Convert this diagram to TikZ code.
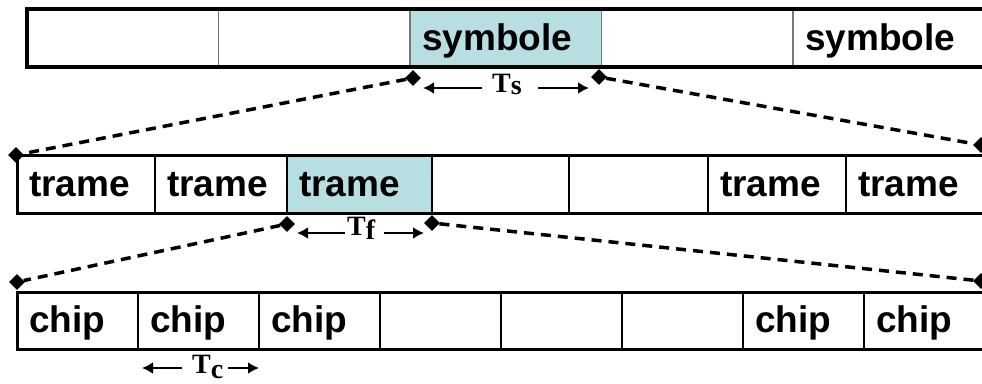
\documentclass[tikz,border=0pt]{standalone}
\usepackage{fontspec}
\setmainfont{Liberation Serif}
\setsansfont{Liberation Sans}
\usetikzlibrary{shapes.geometric,arrows.meta}
\definecolor{hl}{RGB}{183,222,225}
\definecolor{divgray}{RGB}{120,120,120}
\begin{document}
\begin{tikzpicture}[x=1pt,y=-1pt,
  cellbox/.style={rectangle, anchor=north west, minimum height=58pt, inner xsep=12pt, inner ysep=0pt,
    outer sep=0pt, font=\fontsize{37}{37}\sffamily\bfseries, text height=27pt, text depth=3pt, align=left},
  topcell/.style={cellbox, draw=divgray, line width=1.8pt, text width=167.5pt},
  midcell/.style={cellbox, draw=black, line width=2.2pt},
  botcell/.style={cellbox, draw=black, line width=2.2pt, minimum height=57pt, text width=97pt},
  frame/.style={line width=3.4pt, line cap=rect},
  dia/.style={diamond, fill=black, minimum width=16pt, minimum height=16pt, inner sep=0pt},
  dashline/.style={line width=3.5pt, dash pattern=on 10pt off 7pt},
  lbl/.style={font=\fontsize{28}{28}\selectfont\bfseries, inner sep=0pt, anchor=base west},
  arr/.style={line width=2.2pt, -{Latex[length=11pt,width=12pt]}}]
\clip (0,0) rectangle (982,383);
\fill[white] (0,0) rectangle (982,383);

% top bar: symboles
\node[topcell] (s1) at (27,9) {};
\node[topcell] (s2) at (218.5,9) {};
\node[topcell, fill=hl] (s3) at (410,9) {symbole};
\node[topcell] (s4) at (601.5,9) {};
\node[topcell] (s5) at (793,9) {symbole};
\draw[frame] (s5.north east) -- (s1.north west) -- (s1.south west) -- (s5.south east);

% middle bar: trames
\node[midcell, text width=114pt] (t1) at (17,155) {trame};
\node[midcell, text width=108pt] (t2) at (155,155) {trame};
\node[midcell, text width=121pt, fill=hl] (t3) at (287,155) {trame};
\node[midcell, text width=113pt] (t4) at (432,155) {};
\node[midcell, text width=115pt] (t5) at (569,155) {};
\node[midcell, text width=114pt] (t6) at (708,155) {trame};
\node[midcell, text width=115pt] (t7) at (846,155) {trame};
\draw[frame, line width=3pt] (t7.north east) -- (t1.north west) -- (t1.south west) -- (t7.south east);

% bottom bar: chips
\node[botcell] (c1) at (17,292) {chip};
\node[botcell] (c2) at (138,292) {chip};
\node[botcell] (c3) at (259,292) {chip};
\node[botcell] (c4) at (380,292) {};
\node[botcell] (c5) at (501,292) {};
\node[botcell] (c6) at (622,292) {};
\node[botcell] (c7) at (743,292) {chip};
\node[botcell] (c8) at (864,292) {chip};
\draw[frame, line width=3pt] (c8.north east) -- (c1.north west) -- (c1.south west) -- (c8.south east);

% diamonds
\node[dia] (d1) at (413,78) {};
\node[dia] (d2) at (599,77) {};
\node[dia] (d3) at (16,155) {};
\node[dia] (d4) at (981,145) {};
\node[dia] (d5) at (287,224) {};
\node[dia] (d6) at (432,223) {};
\node[dia] (d7) at (17,282) {};
\node[dia] (d8) at (981,281) {};

% dashed zoom lines
\draw[dashline] (d1) -- (d3);
\draw[dashline] (d2) -- (d4);
\draw[dashline] (d5) -- (d7);
\draw[dashline] (d6) -- (d8);

% duration labels
\node[lbl] (ts) at (492,92) {T\raisebox{-2pt}{s}};
\node[lbl] (tf) at (347,235) {T\raisebox{-4pt}{f}};
\node[lbl] (tc) at (192,373) {T\raisebox{-5pt}{c}};

\coordinate (tsa) at (482,88); \coordinate (tsb) at (423,88);
\coordinate (tsc) at (538,88); \coordinate (tsd) at (589,88);
\coordinate (tfa) at (345,233); \coordinate (tfb) at (297,233);
\coordinate (tfc) at (384,233); \coordinate (tfd) at (424,233);
\coordinate (tca) at (182,368); \coordinate (tcb) at (142,368);
\coordinate (tcc) at (228,368); \coordinate (tcd) at (259,368);
\draw[arr] (tsa) -- (tsb);
\draw[arr] (tsc) -- (tsd);
\draw[arr] (tfa) -- (tfb);
\draw[arr] (tfc) -- (tfd);
\draw[arr] (tca) -- (tcb);
\draw[arr] (tcc) -- (tcd);
\end{tikzpicture}
\end{document}
